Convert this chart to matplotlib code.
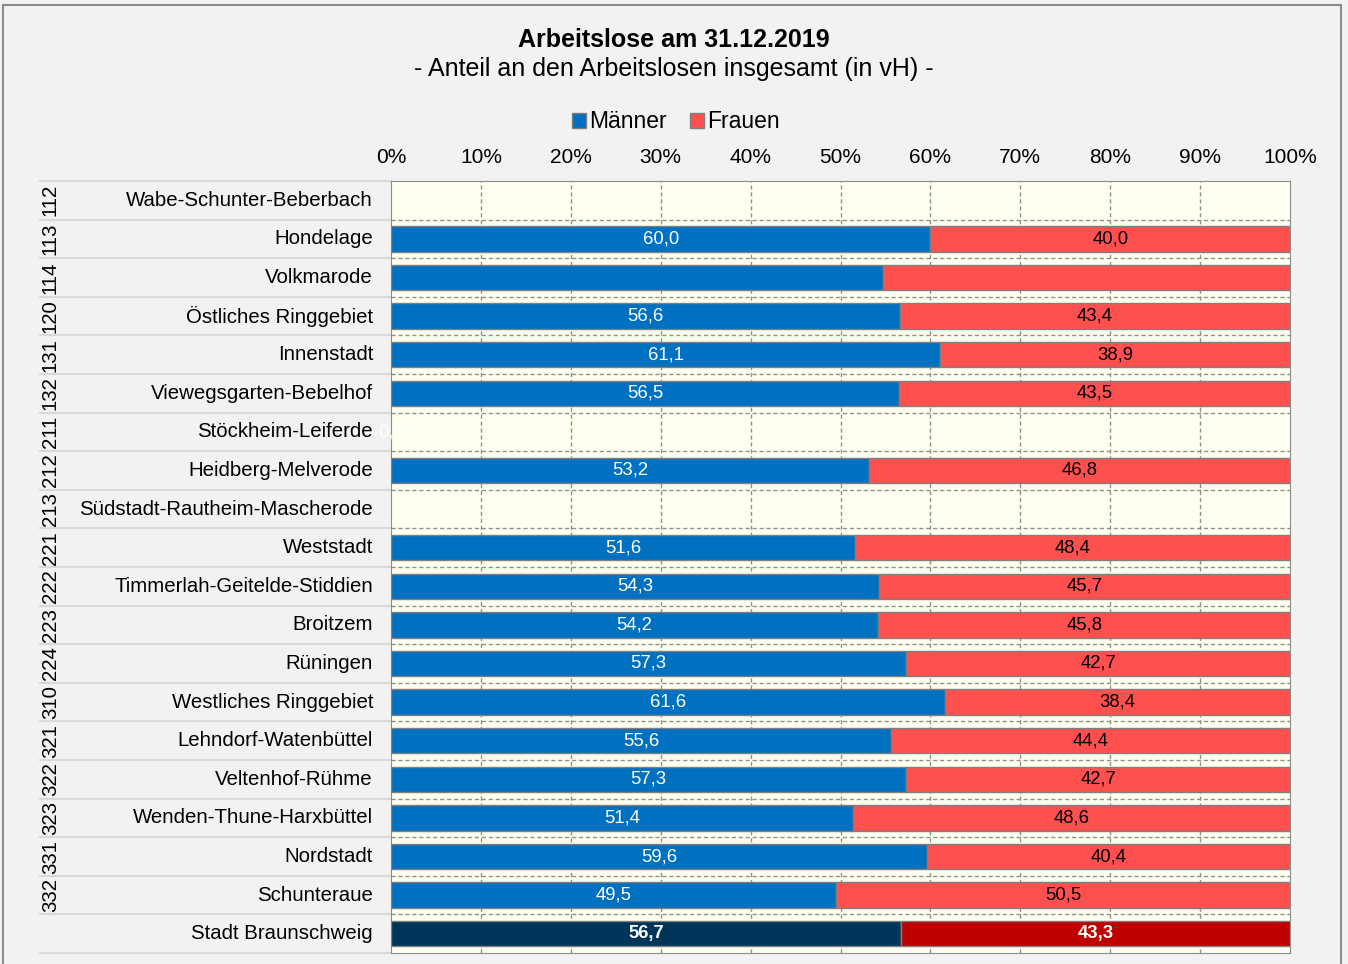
import numpy as np
import matplotlib
matplotlib.use("Agg")
import matplotlib.pyplot as plt
from matplotlib.patches import Patch, Rectangle
from matplotlib.transforms import blended_transform_factory

plt.rcParams['font.family'] = ['Liberation Sans', 'DejaVu Sans']

codes = ['112', '113', '114', '120', '131', '132', '211', '212', '213', '221',
         '222', '223', '224', '310', '321', '322', '323', '331', '332', '']
namen = ['Wabe-Schunter-Beberbach', 'Hondelage', 'Volkmarode', 'Östliches Ringgebiet',
         'Innenstadt', 'Viewegsgarten-Bebelhof', 'Stöckheim-Leiferde', 'Heidberg-Melverode',
         'Südstadt-Rautheim-Mascherode', 'Weststadt', 'Timmerlah-Geitelde-Stiddien',
         'Broitzem', 'Rüningen', 'Westliches Ringgebiet', 'Lehndorf-Watenbüttel',
         'Veltenhof-Rühme', 'Wenden-Thune-Harxbüttel', 'Nordstadt', 'Schunteraue',
         'Stadt Braunschweig']
maenner = [np.nan, 60.0, 54.7, 56.6, 61.1, 56.5, 0.0, 53.2, np.nan, 51.6,
           54.3, 54.2, 57.3, 61.6, 55.6, 57.3, 51.4, 59.6, 49.5, 56.7]
frauen = [np.nan, 40.0, 45.3, 43.4, 38.9, 43.5, np.nan, 46.8, np.nan, 48.4,
          45.7, 45.8, 42.7, 38.4, 44.4, 42.7, 48.6, 40.4, 50.5, 43.3]
ohne_beschriftung = ['Volkmarode']

fig = plt.figure(figsize=(13.48, 9.64), dpi=100, facecolor='#f2f2f2')
ax = fig.add_axes([391 / 1348, 1 - 953 / 964, 899 / 1348, 772 / 964])
ax.set_facecolor('#fffff0')

n = len(namen)
y = np.arange(n)
m = np.nan_to_num(maenner)
f = np.nan_to_num(frauen)
for i in range(n):
    blau = '#00355a' if i == n - 1 else '#0070c0'
    rot = '#c00000' if i == n - 1 else '#ff5050'
    if m[i] > 0:
        ax.barh(i, m[i], height=0.66, color=blau, edgecolor='#7f7f7f', linewidth=1, zorder=3)
    if f[i] > 0:
        ax.barh(i, f[i], left=m[i], height=0.66, color=rot, edgecolor='#7f7f7f',
                linewidth=1, zorder=3)

for i in range(n):
    if namen[i] in ohne_beschriftung:
        continue
    fett = 'bold' if i == n - 1 else 'normal'
    if not np.isnan(maenner[i]):
        ax.text(m[i] / 2, i, f'{maenner[i]:.1f}'.replace('.', ','), ha='center', va='center',
                color='white', fontsize=13.3, fontweight=fett, zorder=4, clip_on=False)
    if not np.isnan(frauen[i]):
        ax.text(m[i] + f[i] / 2, i, f'{frauen[i]:.1f}'.replace('.', ','), ha='center',
                va='center', color='white' if i == n - 1 else 'black', fontsize=13.3,
                fontweight=fett, zorder=4)

ax.set_xlim(0, 100)
ax.set_ylim(n - 0.5, -0.5)
ax.set_xticks(np.arange(0, 101, 10))
ax.set_xticklabels([f'{v}%' for v in range(0, 101, 10)], fontsize=15)
ax.xaxis.tick_top()
ax.tick_params(axis='x', length=0, pad=10)
ax.set_yticks([])
for s in ax.spines.values():
    s.set_color('#8c8c8c')

# gitter
for v in range(10, 100, 10):
    ax.axvline(v, color='#909090', lw=1, ls=(0, (3, 2)), zorder=1)
for b in np.arange(0.5, n - 0.5, 1):
    ax.axhline(b, color='#909090', lw=1, ls=(0, (3, 2)), zorder=1)

# beschriftung links
tr = blended_transform_factory(ax.transAxes, ax.transData)
for b in np.arange(-0.5, n, 1):
    ax.plot([-0.39, 0], [b, b], transform=tr, color='#d9d9d9', lw=1.5, clip_on=False)
for i in range(n):
    ax.text(-0.02, i, namen[i], transform=tr, ha='right', va='center', fontsize=14.7)
    if codes[i]:
        ax.text(-0.379, i, codes[i], transform=tr, ha='center', va='center',
                rotation=90, fontsize=14.7)

fig.text(0.5, 1 - 40 / 964, 'Arbeitslose am 31.12.2019', ha='center', va='center',
         fontsize=18, fontweight='bold')
fig.text(0.5, 1 - 69 / 964, '- Anteil an den Arbeitslosen insgesamt (in vH) -',
         ha='center', va='center', fontsize=18)

handles = [Patch(facecolor='#0070c0', edgecolor='#7f7f7f', label='Männer'),
           Patch(facecolor='#ff5050', edgecolor='#7f7f7f', label='Frauen')]
fig.legend(handles=handles, loc='center', bbox_to_anchor=(0.5015, 1 - 122 / 964), ncol=2,
           frameon=False, fontsize=16.5, handlelength=0.6, handleheight=0.6,
           handletextpad=0.15, columnspacing=1.0)

fig.patches.append(Rectangle((3 / 1348, -0.01), 1338 / 1348, 1 - 5 / 964 + 0.01,
                             transform=fig.transFigure, fill=False,
                             edgecolor='#8c8c8c', lw=1.5))

fig.savefig('out.png', dpi=100, facecolor=fig.get_facecolor())
